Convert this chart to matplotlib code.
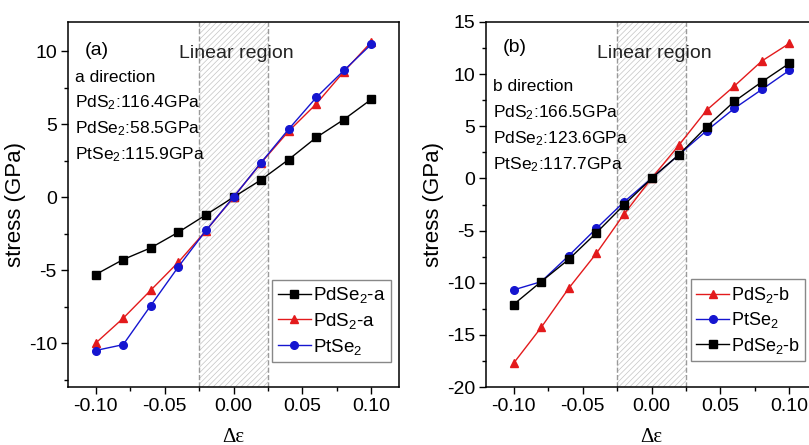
import matplotlib
matplotlib.use("Agg")
import matplotlib.pyplot as plt
from matplotlib.ticker import MultipleLocator, FuncFormatter

plt.rcParams['font.family'] = ['Liberation Sans', 'DejaVu Sans']
plt.rcParams['axes.unicode_minus'] = False
plt.rcParams['mathtext.fontset'] = 'custom'
plt.rcParams['mathtext.rm'] = 'Liberation Sans'
plt.rcParams['mathtext.it'] = 'Liberation Sans:italic'
plt.rcParams['hatch.color'] = '#c4c4c4'
plt.rcParams['hatch.linewidth'] = 0.5

strain = [-0.10, -0.08, -0.06, -0.04, -0.02, 0.0, 0.02, 0.04, 0.06, 0.08, 0.10]

# panel (a), a direction
pdse2_a = [-5.3, -4.27, -3.47, -2.4, -1.21, 0.0, 1.19, 2.58, 4.09, 5.32, 6.71]
pds2_a = [-10.0, -8.29, -6.37, -4.45, -2.3, 0.0, 2.35, 4.52, 6.39, 8.6, 10.64]
ptse2_a = [-10.5, -10.1, -7.42, -4.77, -2.28, 0.0, 2.37, 4.66, 6.83, 8.68, 10.48]

# panel (b), b direction
pds2_b = [-17.72, -14.29, -10.53, -7.19, -3.44, 0.0, 3.21, 6.55, 8.85, 11.26, 12.95]
ptse2_b = [-10.69, -9.9, -7.41, -4.8, -2.26, 0.0, 2.29, 4.58, 6.71, 8.53, 10.37]
pdse2_b = [-12.09, -9.9, -7.76, -5.22, -2.55, 0.0, 2.29, 4.96, 7.38, 9.26, 11.04]

notes_a = ["a direction", "PdS$_2$:116.4GPa", "PdSe$_2$:58.5GPa", "PtSe$_2$:115.9GPa"]
notes_b = ["b direction", "PdS$_2$:166.5GPa", "PdSe$_2$:123.6GPa", "PtSe$_2$:117.7GPa"]

W, H = 809, 445
fig = plt.figure(figsize=(W / 100, H / 100), dpi=100)
ax1 = fig.add_axes([68 / W, 1 - 387 / H, (399 - 68) / W, (387 - 22) / H])
ax2 = fig.add_axes([486 / W, 1 - 387 / H, (817 - 486) / W, (387 - 22) / H])


def style(ax, ylim):
    ax.set_xlim(-0.12, 0.12)
    ax.set_ylim(*ylim)
    ax.axvspan(-0.025, 0.025, facecolor='none', edgecolor='#c4c4c4', hatch='//////', lw=0)
    ax.axvline(-0.025, color='#9a9a9a', ls='--', lw=1)
    ax.axvline(0.025, color='#9a9a9a', ls='--', lw=1)
    ax.xaxis.set_major_locator(MultipleLocator(0.05))
    ax.xaxis.set_minor_locator(MultipleLocator(0.025))
    ax.yaxis.set_major_locator(MultipleLocator(5))
    ax.yaxis.set_minor_locator(MultipleLocator(2.5))
    ax.tick_params(which='both', direction='out', labelsize=14, width=1, pad=3)
    ax.tick_params(which='major', length=5)
    ax.tick_params(which='minor', length=3)
    for s in ax.spines.values():
        s.set_linewidth(1.1)
    ax.set_ylabel('stress (GPa)', fontsize=16, labelpad=2)
    ax.set_xlabel('Δε', fontsize=15, family='Liberation Serif', labelpad=9)
    ax.xaxis.set_major_formatter(FuncFormatter(lambda v, p: f'{v:.2f}'))
    ax.text(0.51, 0.915, 'Linear region', transform=ax.transAxes, ha='center', va='center',
            fontsize=14, color='#222222')


style(ax1, (-13, 12))
style(ax2, (-20, 15))

kw = dict(lw=1.0, ms=5.5)
ax1.plot(strain, pdse2_a, 's-', color='black', label='PdSe$_2$-a', **kw)
ax1.plot(strain, pds2_a, '^-', color='#e31a1c', label='PdS$_2$-a', **kw)
ax1.plot(strain, ptse2_a, 'o-', color='#1515d0', label='PtSe$_2$', **kw)

ax2.plot(strain, pds2_b, '^-', color='#e31a1c', label='PdS$_2$-b', **kw)
ax2.plot(strain, ptse2_b, 'o-', color='#1515d0', label='PtSe$_2$', **kw)
ax2.plot(strain, pdse2_b, 's-', color='black', label='PdSe$_2$-b', **kw)

panels = [(ax1, '(a)', notes_a, 0.923, 0.849, (0.616, 0.068), 13.5),
          (ax2, '(b)', notes_b, 0.929, 0.822, (0.619, 0.071), 13)]
for ax, tag, notes, ytag, ynote, loc, lfs in panels:
    ax.text(0.05, ytag, tag, transform=ax.transAxes, ha='left', va='center', fontsize=14)
    for i, t in enumerate(notes):
        ax.text(0.02, ynote - i * 0.071, t, transform=ax.transAxes, ha='left', va='center',
                fontsize=12.5)
    leg = ax.legend(loc='lower left', bbox_to_anchor=loc, fontsize=lfs, fancybox=False,
                    edgecolor='#888888', framealpha=1, handlelength=1.8, handletextpad=0.1,
                    borderpad=0.3, labelspacing=0.3, borderaxespad=0)
    leg.get_frame().set_linewidth(1.0)

fig.savefig('out.png', dpi=100)
